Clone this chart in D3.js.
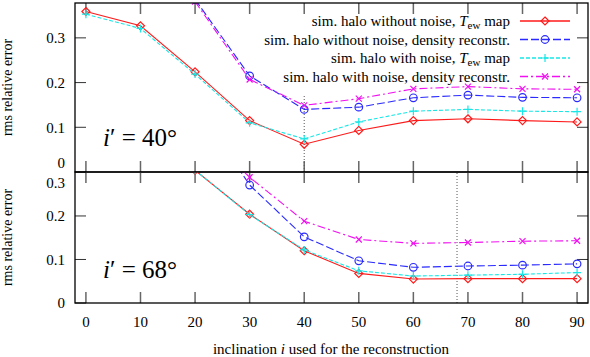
<!DOCTYPE html>
<html>
<head>
<meta charset="utf-8">
<script src="https://cdn.jsdelivr.net/npm/d3@7"></script>
<style>
  body { margin: 0; background: #fff; }
</style>
</head>
<body>
<svg id="chart" width="590" height="357" style="font-family: 'Liberation Serif', 'DejaVu Serif', serif;"></svg>
<script>
// inclination used for the reconstruction
const inclinations = [0, 10, 20, 30, 40, 50, 60, 70, 80, 90];

// panel i' = 40 deg
const top_noNoiseTew   = [0.359, 0.327, 0.224, 0.115, 0.062, 0.093, 0.115, 0.119, 0.115, 0.112];
const top_noNoiseDens  = [null, null, 0.386, 0.215, 0.140, 0.145, 0.166, 0.172, 0.167, 0.166];
const top_noiseTew     = [0.353, 0.321, 0.219, 0.110, 0.074, 0.112, 0.136, 0.140, 0.136, 0.135];
const top_noiseDens    = [null, null, 0.381, 0.207, 0.149, 0.164, 0.186, 0.191, 0.186, 0.185];

// panel i' = 68 deg
const bot_noNoiseTew   = [null, null, 0.305, 0.204, 0.120, 0.068, 0.055, 0.056, 0.056, 0.056];
const bot_noNoiseDens  = [null, null, 0.460, 0.271, 0.152, 0.097, 0.082, 0.085, 0.087, 0.090];
const bot_noiseTew     = [null, null, 0.305, 0.203, 0.122, 0.074, 0.062, 0.064, 0.066, 0.070];
const bot_noiseDens    = [null, null, 0.410, 0.289, 0.188, 0.146, 0.137, 0.139, 0.142, 0.143];

const xTicks = [0, 10, 20, 30, 40, 50, 60, 70, 80, 90];
const yTicks = [0, 0.1, 0.2, 0.3];

const FONT = "'Liberation Serif', 'DejaVu Serif', serif";
const svg = d3.select('#chart');
const left = 75, right = 588, topY = 3, splitY = 172, bottomY = 303;

const x = d3.scaleLinear().domain([-2, 92]).range([left, right]);
const yTop = d3.scaleLinear().domain([0, 0.378]).range([splitY, topY]);
const yBot = d3.scaleLinear().domain([0, 0.301]).range([bottomY, splitY]);

const styles = [
    { color: '#ff1a1a', dash: null,            marker: 'diamond' },
    { color: '#2a2aff', dash: '8,3',           marker: 'circle' },
    { color: '#19e6e6', dash: '4,2',           marker: 'plus' },
    { color: '#f010f0', dash: '8,3,2,3',       marker: 'cross' }
];

function txt(sel) {
    return sel.append('text').style('font-family', FONT).attr('fill', '#000');
}

function drawMarker(g, type, cx, cy, color) {
    if (type === 'diamond') {
        g.append('path')
            .attr('d', `M${cx},${cy - 4}L${cx + 4},${cy}L${cx},${cy + 4}L${cx - 4},${cy}Z`)
            .attr('fill', 'none').attr('stroke', color).attr('stroke-width', 1.2);
    } else if (type === 'circle') {
        g.append('circle').attr('cx', cx).attr('cy', cy).attr('r', 3.8)
            .attr('fill', 'none').attr('stroke', color).attr('stroke-width', 1.2);
    } else if (type === 'plus') {
        g.append('path')
            .attr('d', `M${cx - 4},${cy}H${cx + 4}M${cx},${cy - 4}V${cy + 4}`)
            .attr('stroke', color).attr('stroke-width', 1.2);
    } else {
        g.append('path')
            .attr('d', `M${cx - 3},${cy - 3}L${cx + 3},${cy + 3}M${cx - 3},${cy + 3}L${cx + 3},${cy - 3}`)
            .attr('stroke', color).attr('stroke-width', 1.2);
    }
}

function drawPanel(id, y, seriesList, label, markLine) {
    const y0 = y.range()[1], y1 = y.range()[0];

    svg.append('clipPath').attr('id', 'clip-' + id)
        .append('rect').attr('x', left).attr('y', y0).attr('width', right - left).attr('height', y1 - y0);

    const g = svg.append('g');

    // ticks
    xTicks.forEach(t => {
        g.append('line').attr('x1', x(t)).attr('x2', x(t)).attr('y1', y1).attr('y2', y1 - 11)
            .attr('stroke', '#666').attr('stroke-width', 1.5);
        g.append('line').attr('x1', x(t)).attr('x2', x(t)).attr('y1', y0).attr('y2', y0 + 11)
            .attr('stroke', '#666').attr('stroke-width', 1.5);
    });
    yTicks.filter(t => y(t) >= y0 - 0.5).forEach(t => {
        g.append('line').attr('x1', left).attr('x2', left + 11).attr('y1', y(t)).attr('y2', y(t))
            .attr('stroke', '#333').attr('stroke-width', 1);
        g.append('line').attr('x1', right).attr('x2', right - 11).attr('y1', y(t)).attr('y2', y(t))
            .attr('stroke', '#333').attr('stroke-width', 1);
        let ly = y(t);
        if (id === 'top') ly = Math.min(ly, splitY - 9);
        else ly = Math.max(ly, splitY + 11);
        txt(g).attr('x', 65).attr('y', ly).attr('dy', '0.35em')
            .attr('text-anchor', 'end').style('font-size', '15px')
            .text(t === 0 ? '0' : d3.format('.1f')(t));
    });

    // reference line at the true inclination
    g.append('line')
        .attr('x1', x(markLine[0])).attr('x2', x(markLine[0]))
        .attr('y1', y(markLine[1])).attr('y2', y(markLine[2]))
        .attr('stroke', '#555').attr('stroke-width', 1).attr('stroke-dasharray', '1,2');

    const plot = g.append('g').attr('clip-path', `url(#clip-${id})`);
    const line = d3.line()
        .defined(d => d[1] !== null)
        .x(d => x(d[0]))
        .y(d => y(d[1]));

    seriesList.forEach((vals, k) => {
        const s = styles[k];
        const pts = inclinations.map((inc, i) => [inc, vals[i]]);
        plot.append('path').datum(pts)
            .attr('d', line)
            .attr('fill', 'none')
            .attr('stroke', s.color)
            .attr('stroke-width', 1.1)
            .attr('stroke-dasharray', s.dash);
        pts.filter(p => p[1] !== null).forEach(p => drawMarker(plot, s.marker, x(p[0]), y(p[1]), s.color));
    });

    // frame
    g.append('rect').attr('x', left).attr('y', y0).attr('width', right - left).attr('height', y1 - y0)
        .attr('fill', 'none').attr('stroke', '#000').attr('stroke-width', 1.3);

    // panel label i' = ..
    const lt = txt(g).attr('x', 103).attr('y', label.y).style('font-size', '25px');
    lt.append('tspan').style('font-style', 'italic').text('i');
    lt.append('tspan').text('\u2032 = ' + label.text);

    // y axis title
    txt(svg)
        .attr('transform', `translate(12,${(y0 + y1) / 2}) rotate(-90)`)
        .attr('text-anchor', 'middle').style('font-size', '14px')
        .text('rms relative error');
}

drawPanel('top', yTop, [top_noNoiseTew, top_noNoiseDens, top_noiseTew, top_noiseDens],
    { text: '40°', y: 146 }, [40, 0, 0.172]);
drawPanel('bot', yBot, [bot_noNoiseTew, bot_noNoiseDens, bot_noiseTew, bot_noiseDens],
    { text: '68°', y: 278 }, [68, 0, 0.301]);

// x tick labels
xTicks.forEach(t => {
    txt(svg).attr('x', x(t)).attr('y', 327).attr('text-anchor', 'middle')
        .style('font-size', '15px').text(t);
});

// x axis title
const xt = txt(svg).attr('x', 331).attr('y', 354).attr('text-anchor', 'middle').style('font-size', '15px');
xt.append('tspan').text('inclination ');
xt.append('tspan').style('font-style', 'italic').text('i');
xt.append('tspan').text(' used for the reconstruction');

// legend
const legendLabels = [
    ['sim. halo without noise, ', 'map'],
    ['sim. halo without noise, density reconstr.', null],
    ['sim. halo with noise, ', 'map'],
    ['sim. halo with noise, density reconstr.', null]
];
legendLabels.forEach((lab, k) => {
    const ly = 21 + k * 18.5;
    const s = styles[k];
    const t = txt(svg).attr('x', 510).attr('y', ly).attr('dy', '0.35em')
        .attr('text-anchor', 'end').style('font-size', '15px');
    t.append('tspan').text(lab[0]);
    if (lab[1]) {
        t.append('tspan').style('font-style', 'italic').text('T');
        t.append('tspan').attr('dy', '3').style('font-size', '11px').text('ew');
        t.append('tspan').attr('dy', '-3').text(' ' + lab[1]);
    }
    svg.append('line').attr('x1', 520).attr('x2', 570).attr('y1', ly).attr('y2', ly)
        .attr('stroke', s.color).attr('stroke-width', 1.3).attr('stroke-dasharray', s.dash);
    drawMarker(svg, s.marker, 545, ly, s.color);
});
</script>
</body>
</html>
